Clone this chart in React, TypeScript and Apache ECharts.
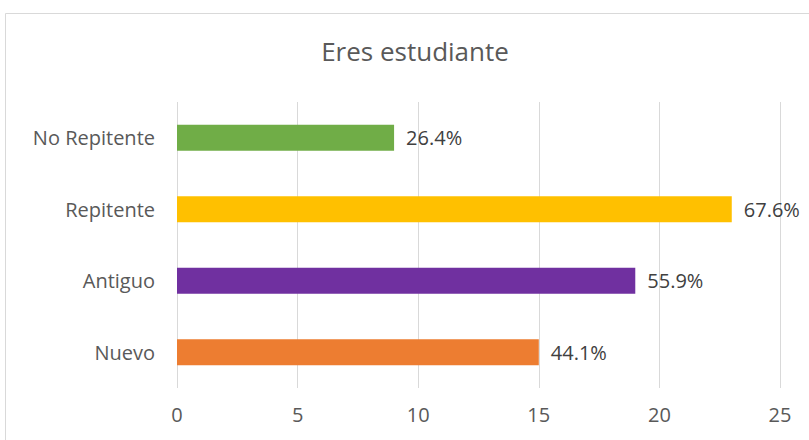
import React, { useEffect, useRef } from "react";
import * as echarts from "echarts";

const categories = ["Nuevo", "Antiguo", "Repitente", "No Repitente"];
const values = [15, 19, 23, 9];
const percentLabels = ["44.1%", "55.9%", "67.6%", "26.4%"];
const colors = ["#ED7D31", "#7030A0", "#FFC000", "#70AD47"];
const titleText = "Eres estudiante";

export default function App() {
  const ref = useRef<HTMLDivElement>(null);
  useEffect(() => {
    if (!ref.current) return;
    const chart = echarts.init(ref.current, undefined, { renderer: "svg" });
    const font = "'Open Sans', 'Noto Sans', sans-serif";
    chart.setOption({
      animation: false,
      backgroundColor: "#ffffff",
      title: {
        text: titleText,
        left: 410,
        textAlign: "center",
        top: 33,
        textStyle: { color: "#595959", fontSize: 26, fontWeight: "normal", fontFamily: font },
      },
      graphic: [
        {
          type: "rect",
          shape: { x: 5.5, y: 13.5, width: 820, height: 440 },
          style: { fill: "none", stroke: "#d9d9d9", lineWidth: 1 },
          silent: true,
        },
      ],
      grid: { left: 177, right: 29, top: 102, bottom: 52, containLabel: false },
      xAxis: {
        type: "value",
        min: 0,
        max: 25,
        interval: 5,
        axisLine: { show: false },
        axisTick: { show: false },
        axisLabel: { color: "#595959", fontSize: 20, fontFamily: font, margin: 16 },
        splitLine: { show: true, lineStyle: { color: "#d9d9d9", width: 1 } },
      },
      yAxis: {
        type: "category",
        data: categories,
        axisLine: { show: false },
        axisTick: { show: false },
        axisLabel: { color: "#595959", fontSize: 20, fontFamily: font, margin: 22 },
        splitLine: { show: false },
      },
      series: [
        {
          type: "bar",
          data: values.map((v, i) => ({ value: v, itemStyle: { color: colors[i] } })),
          barWidth: 26,
          label: {
            show: true,
            position: "right",
            distance: 12,
            color: "#404040",
            fontSize: 20,
            fontFamily: font,
            formatter: (p: any) => percentLabels[p.dataIndex],
          },
        },
      ],
    });
    return () => chart.dispose();
  }, []);
  return (
    <div
      ref={ref}
      style={{ position: "absolute", left: 0, top: 0, width: 809, height: 440 }}
    />
  );
}
